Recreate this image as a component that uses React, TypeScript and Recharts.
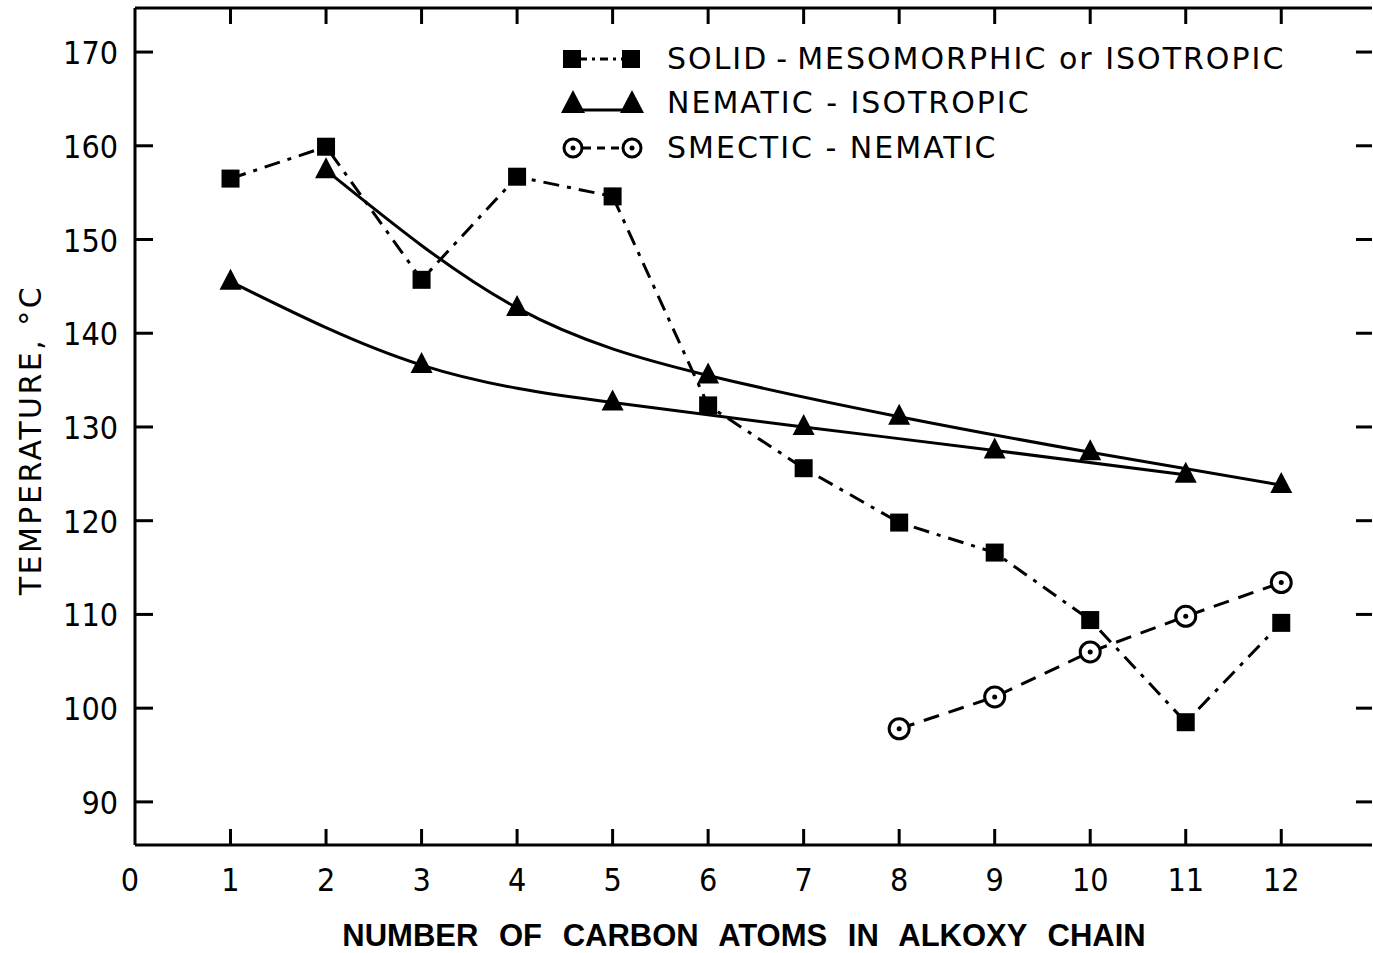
import React from 'react';
import { LineChart, Line, XAxis, YAxis } from 'recharts';

// values
const carbonTicks = [0, 1, 2, 3, 4, 5, 6, 7, 8, 9, 10, 11, 12];
const tempTicks = [90, 100, 110, 120, 130, 140, 150, 160, 170];

const solidCarbons = [1, 2, 3, 4, 5, 6, 7, 8, 9, 10, 11, 12];
const solidTemps = [156.5, 159.9, 145.7, 156.7, 154.6, 132.3, 125.6, 119.8, 116.6, 109.4, 98.5, 109.1];

const nematicOddCarbons = [1, 3, 5, 7, 9, 11];
const nematicOddTemps = [145.5, 136.6, 132.6, 130.0, 127.5, 124.9];

const nematicEvenCarbons = [2, 4, 6, 8, 10, 12];
const nematicEvenTemps = [157.4, 142.7, 135.5, 131.1, 127.3, 123.8];

const smecticCarbons = [8, 9, 10, 11, 12];
const smecticTemps = [97.8, 101.2, 106.0, 109.8, 113.4];

const toPoints = (xs: number[], ys: number[]) => xs.map((n, i) => ({ n, t: ys[i] }));

const tickFont = '"DejaVu Sans Condensed", "DejaVu Sans", sans-serif';
const textFont = '"DejaVu Sans", sans-serif';
const W = 1373;
const H = 953;

const SquareDot = (props: any) => {
  const { cx, cy, index } = props;
  return <rect key={`sq-${index}`} x={cx - 9} y={cy - 9} width={18} height={18} fill="#000" />;
};

const TriangleDot = (props: any) => {
  const { cx, cy, index } = props;
  return (
    <path
      key={`tr-${index}`}
      d={`M${cx},${cy - 13} L${cx + 11},${cy + 8} L${cx - 11},${cy + 8} Z`}
      fill="#000"
    />
  );
};

const CircleDot = (props: any) => {
  const { cx, cy, index } = props;
  return (
    <g key={`ci-${index}`}>
      <circle cx={cx} cy={cy} r={10} fill="#fff" stroke="#000" strokeWidth={3} />
      <circle cx={cx} cy={cy} r={2.5} fill="#000" />
    </g>
  );
};

const BottomTick = ({ x, y, payload }: any) => (
  <g>
    {payload.value !== 0 && <line x1={x} y1={y} x2={x} y2={y - 16} stroke="#000" strokeWidth={3} />}
    <text x={payload.value === 0 ? x - 5 : x} y={y + 46} textAnchor="middle" fontSize={32} fontFamily={tickFont} fill="#000">
      {payload.value}
    </text>
  </g>
);

const TopTick = ({ x, y, payload }: any) =>
  payload.value === 0 ? <g /> : <line x1={x} y1={y} x2={x} y2={y + 16} stroke="#000" strokeWidth={3} />;

const LeftTick = ({ x, y, payload }: any) => (
  <g>
    <line x1={x} y1={y} x2={x + 18} y2={y} stroke="#000" strokeWidth={3} />
    <text x={x - 17} y={y + 12} textAnchor="end" fontSize={32} fontFamily={tickFont} fill="#000">
      {payload.value}
    </text>
  </g>
);

const RightTick = ({ x, y }: any) => <line x1={x - 16} y1={y} x2={x} y2={y} stroke="#000" strokeWidth={3} />;

const LegendMarker = ({ kind }: { kind: 'square' | 'triangle' | 'circle' }) => (
  <svg width={100} height={34} style={{ display: 'block' }}>
    {kind === 'square' && (
      <g>
        <line x1={24} y1={17} x2={76} y2={17} stroke="#000" strokeWidth={3} strokeDasharray="8 5 3 5" />
        <rect x={8} y={8} width={18} height={18} fill="#000" />
        <rect x={67} y={8} width={18} height={18} fill="#000" />
      </g>
    )}
    {kind === 'triangle' && (
      <g>
        <line x1={20} y1={24} x2={80} y2={24} stroke="#000" strokeWidth={3} />
        <path d="M18,4 L30,27 L6,27 Z" fill="#000" />
        <path d="M77,4 L89,27 L65,27 Z" fill="#000" />
      </g>
    )}
    {kind === 'circle' && (
      <g>
        <line x1={28} y1={17} x2={68} y2={17} stroke="#000" strokeWidth={3} strokeDasharray="8 6" />
        <circle cx={18} cy={17} r={9} fill="#fff" stroke="#000" strokeWidth={3} />
        <circle cx={18} cy={17} r={2.5} fill="#000" />
        <circle cx={77} cy={17} r={9} fill="#fff" stroke="#000" strokeWidth={3} />
        <circle cx={77} cy={17} r={2.5} fill="#000" />
      </g>
    )}
  </svg>
);

const legendItems: { kind: 'square' | 'triangle' | 'circle'; label: string; top: number }[] = [
  { kind: 'square', label: 'SOLID\u2009-\u2009MESOMORPHIC or ISOTROPIC', top: 42 },
  { kind: 'triangle', label: 'NEMATIC - ISOTROPIC', top: 86 },
  { kind: 'circle', label: 'SMECTIC - NEMATIC', top: 131 },
];

export default function App() {
  return (
    <div style={{ position: 'absolute', left: 0, top: 0, width: W, height: H, background: '#fff' }}>
      <LineChart width={W} height={H} margin={{ top: 7, right: 0, left: 134, bottom: 107 }}>
        <XAxis
          dataKey="n"
          type="number"
          domain={[0, 12.95]}
          ticks={carbonTicks}
          allowDataOverflow
          height={1}
          tickSize={0}
          tickMargin={0}
          tick={<BottomTick />}
          axisLine={{ stroke: '#000', strokeWidth: 3 }}
          interval={0}
        />
        <XAxis
          xAxisId="top"
          orientation="top"
          dataKey="n"
          type="number"
          domain={[0, 12.95]}
          ticks={carbonTicks}
          allowDataOverflow
          height={1}
          tickSize={0}
          tickMargin={0}
          tick={<TopTick />}
          axisLine={{ stroke: '#000', strokeWidth: 3 }}
          interval={0}
        />
        <YAxis
          type="number"
          domain={[85.4, 174.7]}
          ticks={tempTicks}
          allowDataOverflow
          width={1}
          tickSize={0}
          tickMargin={0}
          tick={<LeftTick />}
          axisLine={{ stroke: '#000', strokeWidth: 3 }}
          interval={0}
        />
        <YAxis
          yAxisId="right"
          orientation="right"
          type="number"
          domain={[85.4, 174.7]}
          ticks={tempTicks}
          allowDataOverflow
          width={1}
          tickSize={0}
          tickMargin={0}
          tick={<RightTick />}
          axisLine={false}
          interval={0}
        />
        <Line
          data={toPoints(nematicOddCarbons, nematicOddTemps)}
          dataKey="t"
          type="natural"
          stroke="#000"
          strokeWidth={3}
          dot={TriangleDot}
          isAnimationActive={false}
        />
        <Line
          data={toPoints(nematicEvenCarbons, nematicEvenTemps)}
          dataKey="t"
          type="natural"
          stroke="#000"
          strokeWidth={3}
          dot={TriangleDot}
          isAnimationActive={false}
        />
        <Line
          data={toPoints(smecticCarbons, smecticTemps)}
          dataKey="t"
          type="linear"
          stroke="#000"
          strokeWidth={3}
          strokeDasharray="16 10"
          dot={CircleDot}
          isAnimationActive={false}
        />
        <Line
          data={toPoints(solidCarbons, solidTemps)}
          dataKey="t"
          type="linear"
          stroke="#000"
          strokeWidth={3}
          strokeDasharray="16 8 4 8"
          dot={SquareDot}
          isAnimationActive={false}
        />
      </LineChart>

      {legendItems.map((item) => (
        <div
          key={item.kind}
          style={{ position: 'absolute', left: 555, top: item.top, display: 'flex', alignItems: 'center' }}
        >
          <LegendMarker kind={item.kind} />
          <span
            style={{
              marginLeft: 12,
              fontFamily: textFont,
              fontSize: 30,
              letterSpacing: 2,
              lineHeight: '34px',
              whiteSpace: 'pre',
            }}
          >
            {item.label}
          </span>
        </div>
      ))}

      <div
        style={{
          position: 'absolute',
          left: 30,
          top: 440,
          transform: 'translate(-50%, -50%) rotate(-90deg)',
          fontFamily: textFont,
          fontSize: 30,
          letterSpacing: 2.5,
          whiteSpace: 'nowrap',
        }}
      >
        TEMPERATURE, °C
      </div>

      <div
        style={{
          position: 'absolute',
          left: 744,
          top: 918,
          transform: 'translateX(-50%)',
          fontFamily: '"Liberation Sans", Arial, sans-serif',
          fontWeight: 'bold',
          fontSize: 31,
          wordSpacing: 12,
          whiteSpace: 'nowrap',
        }}
      >
        NUMBER OF CARBON ATOMS IN ALKOXY CHAIN
      </div>
    </div>
  );
}
